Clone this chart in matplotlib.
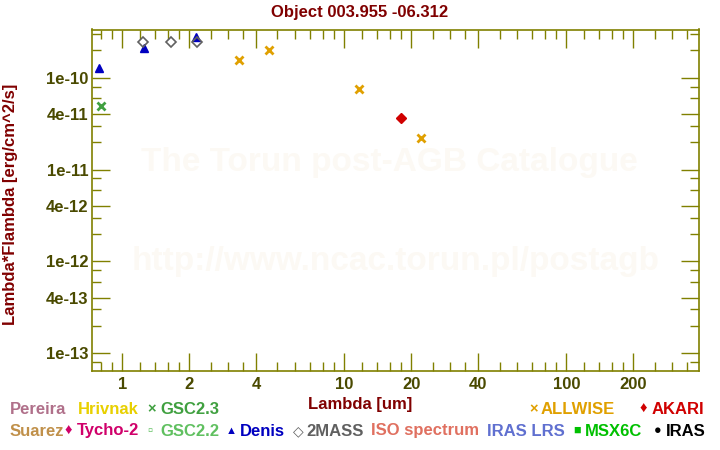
import matplotlib
matplotlib.use('Agg')
from matplotlib import pyplot as plt
from matplotlib.ticker import FixedLocator, FixedFormatter, NullFormatter

plt.rcParams['font.family'] = ['Liberation Sans', 'DejaVu Sans']
plt.rcParams['font.weight'] = 'bold'

# photometry (um, erg/cm^2/s)
gsc23_x = [0.80]
gsc23_y = [4.9e-11]
denis_x = [0.79, 1.25, 2.16]
denis_y = [1.27e-10, 2.1e-10, 2.8e-10]
twomass_x = [1.24, 1.66, 2.17]
twomass_y = [2.46e-10, 2.42e-10, 2.42e-10]
allwise_x = [3.35, 4.6, 11.6, 22.1]
allwise_y = [1.56e-10, 2.0e-10, 7.5e-11, 2.2e-11]
akari_x = [18.0]
akari_y = [3.65e-11]

xticks = [1, 2, 4, 10, 20, 40, 100, 200]
xticklabels = ['1', '2', '4', '10', '20', '40', '100', '200']
xminor = [0.8, 0.9, 1.2, 1.4, 1.6, 1.8, 2.5, 3, 3.5, 5, 6, 7, 8, 9,
          12, 14, 16, 18, 25, 30, 35, 50, 60, 70, 80, 90,
          120, 140, 160, 180, 250, 300, 350]
yticks = [1e-13, 4e-13, 1e-12, 4e-12, 1e-11, 4e-11, 1e-10]
yticklabels = ['1e-13', '4e-13', '1e-12', '4e-12', '1e-11', '4e-11', '1e-10']
yminor = [m * 10.0 ** e for e in range(-14, -9) for m in (2, 3, 6, 8)]

# legend rows: (text, colour, x pixel, size)
row1 = [('Pereira', '#b0708a', 10, 12), ('Hrivnak', '#e8d000', 78, 12),
        ('\u00d7', '#40a040', 147, 10.5), ('GSC2.3', '#40a040', 160, 12),
        ('\u00d7', '#e0a000', 529, 10.5), ('ALLWISE', '#e0a000', 541, 12),
        ('\u2666', '#d00000', 640, 10.5), ('AKARI', '#d00000', 652, 12)]
row2 = [('Suarez', '#c0904a', 10, 12), ('\u2666', '#d0006a', 65, 10.5),
        ('Tycho-2', '#d0006a', 77, 12),
        ('\u25ab', '#60c060', 147, 10.5), ('GSC2.2', '#60c060', 160, 12),
        ('\u25b2', '#0000c0', 226, 8), ('Denis', '#0000c0', 240, 12),
        ('\u25c7', '#606060', 293, 10), ('2MASS', '#606060', 306, 12),
        ('ISO spectrum', '#e07060', 371, 12), ('IRAS LRS', '#6070d0', 487, 12),
        ('\u25a0', '#00c000', 573, 9), ('MSX6C', '#00c000', 585, 12),
        ('\u25cf', '#000000', 654, 9), ('IRAS', '#000000', 666, 12)]

W, H = 720, 450
fig = plt.figure(figsize=(7.2, 4.5), dpi=100)
ax = fig.add_axes([92.5 / W, 1 - 371 / H, (699 - 92.5) / W, (371 - 29.5) / H])

olive = '#808000'
ax.set_xscale('log')
ax.set_yscale('log')
ax.set_xlim(0.735, 395)
ax.set_ylim(6.4e-14, 3.35e-10)

# watermark
ax.text(0.49, 0.61, 'The Torun post-AGB Catalogue', transform=ax.transAxes,
        ha='center', va='center', fontsize=24, color='#fcf9f4', zorder=0)
ax.text(0.50, 0.32, 'http://www.ncac.torun.pl/postagb', transform=ax.transAxes,
        ha='center', va='center', fontsize=24, color='#fcf9f4', zorder=0)

ax.plot(gsc23_x, gsc23_y, 'x', color='#40a040', ms=5.5, mew=2)
ax.plot(denis_x, denis_y, '^', color='#0000c0', ms=6)
ax.plot(twomass_x, twomass_y, 'D', mfc='none', mec='#606060', ms=5, mew=1.2)
ax.plot(allwise_x, allwise_y, 'x', color='#e0a000', ms=5.5, mew=2)
ax.plot(akari_x, akari_y, 'D', color='#d00000', ms=5)

ax.xaxis.set_major_locator(FixedLocator(xticks))
ax.xaxis.set_major_formatter(FixedFormatter(xticklabels))
ax.xaxis.set_minor_locator(FixedLocator(xminor))
ax.xaxis.set_minor_formatter(NullFormatter())
ax.yaxis.set_major_locator(FixedLocator(yticks))
ax.yaxis.set_major_formatter(FixedFormatter(yticklabels))
ax.yaxis.set_minor_locator(FixedLocator(yminor))
ax.yaxis.set_minor_formatter(NullFormatter())

ax.tick_params(which='both', direction='in', top=True, right=True, color=olive,
               labelcolor='#4a4a00', labelsize=12, width=1)
ax.tick_params(which='major', length=13)
ax.tick_params(which='minor', length=6.5)
ax.tick_params(axis='x', pad=4)
ax.tick_params(axis='y', pad=3)
for s in ax.spines.values():
    s.set_color(olive)
    s.set_linewidth(1.2)

fig.text(0.5, 1 - 12 / H, 'Object 003.955 -06.312', ha='center', va='center',
         fontsize=12, color='#800000')
fig.text(10.5 / W, 1 - 204 / H, 'Lambda*Flambda [erg/cm^2/s]', rotation=90,
         ha='center', va='center', fontsize=12, color='#800000')
fig.text(360 / W, 1 - 404 / H, 'Lambda [um]', ha='center', va='center',
         fontsize=12, color='#800000')

for y, row in ((409, row1), (431, row2)):
    for txt, col, x, size in row:
        fig.text(x / W, 1 - y / H, txt, ha='left', va='center', fontsize=size,
                 color=col, family=['Liberation Sans', 'DejaVu Sans'])

fig.savefig('out.png', dpi=100)
